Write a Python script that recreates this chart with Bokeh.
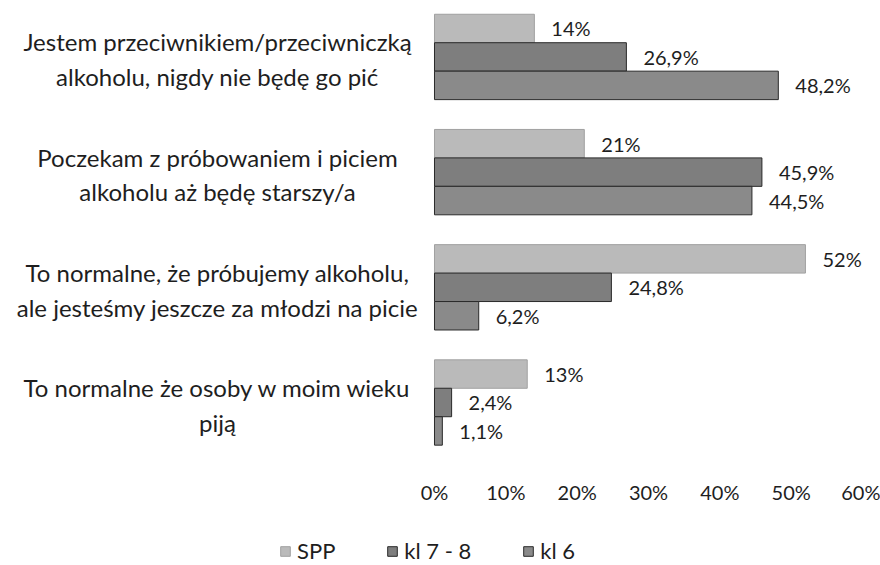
from bokeh.plotting import figure
from bokeh.layouts import column
from bokeh.models import ColumnDataSource, FixedTicker, Legend, LegendItem, CustomJSTickFormatter
from bokeh.transform import dodge
from bokeh.core.properties import value
from bokeh.embed import file_html
from bokeh.resources import INLINE

categories = [
    "Jestem przeciwnikiem/przeciwniczką\nalkoholu, nigdy nie będę go pić",
    "Poczekam z próbowaniem i piciem\nalkoholu aż będę starszy/a",
    "To normalne, że próbujemy alkoholu,\nale jesteśmy jeszcze za młodzi na picie",
    "To normalne że osoby w moim wieku\npiją",
]
series = ["SPP", "kl 7 - 8", "kl 6"]
spp = [14.0, 21.0, 52.0, 13.0]
kl78 = [26.9, 45.9, 24.8, 2.4]
kl6 = [48.2, 44.5, 6.2, 1.1]
x_ticks = [0, 10, 20, 30, 40, 50, 60]

FONT = "Lato"
TXT = "#1e1e1e"
ypos = [3 - i for i in range(len(categories))]

def fmt(v):
    s = ("%.1f" % v).rstrip("0").rstrip(".")
    return s.replace(".", ",") + "%"

src = ColumnDataSource(dict(
    y=ypos, cat=categories,
    spp=spp, kl78=kl78, kl6=kl6,
    spp_l=[fmt(v) for v in spp], kl78_l=[fmt(v) for v in kl78], kl6_l=[fmt(v) for v in kl6],
))

X0 = -60.84
p = figure(width=880, height=525, output_backend="svg", toolbar_location=None,
           x_range=(X0, 60), y_range=(-0.547, 3.49),
           min_border_left=0, min_border_right=18, min_border_top=0, min_border_bottom=60)
p.outline_line_color = None
p.grid.visible = False
p.yaxis.visible = False

bh = 0.247
fills = ["#bababa", "#7e7e7e", "#8a8a8a"]
lines = ["#a0a0a0", "#2a2a2a", "#2a2a2a"]
cols = ["spp", "kl78", "kl6"]
offs = [bh, 0.0, -bh]
for col, off, fc, lc in zip(cols, offs, fills, lines):
    p.hbar(y=dodge("y", off), left=0, right=col, height=bh, source=src,
           fill_color=fc, line_color=lc, line_width=1)
    p.text(x=col, y=dodge("y", off), text=col + "_l", source=src, x_offset=17,
           text_font=value(FONT), text_font_size="20px", text_color=TXT,
           text_align="left", text_baseline="middle")

p.text(x=X0 + 217 / 7.133, y=dodge("y", -0.02), text="cat", source=src, text_font=value(FONT),
       text_font_size="24px", text_color=TXT, text_align="center",
       text_baseline="middle", text_line_height=1.2)

ax = p.xaxis[0]
ax.ticker = FixedTicker(ticks=x_ticks)
ax.formatter = CustomJSTickFormatter(code="return tick + '%';")
ax.axis_line_color = None
ax.major_tick_line_color = None
ax.minor_tick_line_color = None
ax.major_label_text_font = FONT
ax.major_label_text_font_size = "20px"
ax.major_label_text_color = TXT
ax.major_label_standoff = 8

# legend strip
lf = figure(width=880, height=40, output_backend="svg", toolbar_location=None,
            x_range=(0, 1), y_range=(0, 1), min_border=0)
lf.outline_line_color = None
lf.grid.visible = False
lf.axis.visible = False
lsrc = ColumnDataSource(dict(y=[-10], r=[0.1]))
lrs = [lf.hbar(y="y", left=0, right="r", height=0.1, source=lsrc,
               fill_color=fc, line_color=lc) for fc, lc in zip(fills, lines)]
legend = Legend(items=[LegendItem(label=s, renderers=[r], index=0) for s, r in zip(series, lrs)],
                orientation="horizontal", location=(279, 1),
                label_text_font=FONT, label_text_font_size="22px", label_text_color=TXT,
                glyph_width=12, glyph_height=12, spacing=51, label_standoff=6,
                border_line_color=None, background_fill_alpha=0, margin=0, padding=0)
lf.add_layout(legend, "center")

open("out.html", "w").write(file_html(column(p, lf, spacing=0), INLINE))
